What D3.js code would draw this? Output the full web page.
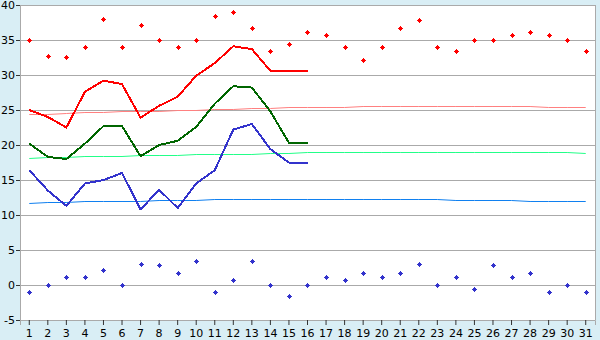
<!DOCTYPE html>
<html>
<head>
<meta charset="utf-8">
<script src="https://cdn.jsdelivr.net/npm/d3@7"></script>
<style>
  body { margin: 0; background: #d9eef5; }
  svg { display: block; }
  .tick text { font-family: "DejaVu Sans", Verdana, sans-serif; font-size: 11px; fill: #000; }
</style>
</head>
<body>
<div id="chart"></div>
<script>
(function(){
    var width = 600;
    var height = 340;

    var days = d3.range(1, 32);
    var yTicks = [-5, 0, 5, 10, 15, 20, 25, 30, 35, 40];

    // measured this month (days 1..16)
    var maxTemp  = [25.0, 24.0, 22.5, 27.6, 29.2, 28.7, 23.9, 25.6, 26.9, 29.9, 31.7, 34.1, 33.7, 30.6, 30.6, 30.6];
    var meanTemp = [20.2, 18.3, 18.0, 20.2, 22.7, 22.7, 18.4, 20.0, 20.6, 22.6, 25.9, 28.4, 28.2, 24.8, 20.3, 20.3];
    var minTemp  = [16.4, 13.5, 11.3, 14.5, 15.0, 16.0, 10.8, 13.6, 11.0, 14.5, 16.4, 22.2, 23.0, 19.4, 17.5, 17.5];

    // normals
    var maxNormal  = [24.4, 24.5, 24.6, 24.65, 24.7, 24.8, 24.85, 24.9, 24.95, 25.0, 25.1, 25.2, 25.3, 25.35, 25.4, 25.42,
                      25.45, 25.48, 25.5, 25.55, 25.57, 25.57, 25.57, 25.57, 25.57, 25.57, 25.56, 25.52, 25.47, 25.43, 25.4];
    var meanNormal = [18.1, 18.25, 18.3, 18.38, 18.42, 18.47, 18.52, 18.57, 18.62, 18.67, 18.7, 18.72, 18.76, 18.82, 18.88, 18.93,
                      18.96, 18.98, 19.0, 19.0, 19.0, 19.0, 19.0, 19.0, 19.0, 19.0, 18.98, 18.97, 18.95, 18.93, 18.9];
    var minNormal  = [11.7, 11.8, 11.87, 11.93, 11.98, 12.02, 12.06, 12.1, 12.14, 12.18, 12.22, 12.26, 12.28, 12.3, 12.3, 12.3,
                      12.3, 12.3, 12.3, 12.29, 12.28, 12.26, 12.24, 12.2, 12.17, 12.14, 12.1, 12.06, 12.02, 11.99, 11.96];

    // records
    var maxRecord = [35.0, 32.7, 32.5, 34.0, 38.0, 34.0, 37.2, 35.0, 34.0, 35.0, 38.4, 39.0, 36.7, 33.4, 34.4, 36.1,
                     35.7, 34.0, 32.2, 34.0, 36.7, 37.8, 34.0, 33.4, 35.0, 35.0, 35.7, 36.1, 35.7, 35.0, 33.4];
    var minRecord = [-1.0, 0.0, 1.1, 1.1, 2.2, 0.0, 3.0, 2.8, 1.7, 3.4, -1.0, 0.7, 3.4, 0.0, -1.6, 0.0,
                     1.1, 0.7, 1.7, 1.1, 1.7, 3.0, 0.0, 1.1, -0.6, 2.8, 1.1, 1.7, -1.0, 0.0, -1.0];

    var margin = {left: 20, right: 5, top: 5, bottom: 20};
    var plotW = width - margin.left - margin.right;
    var plotH = height - margin.top - margin.bottom;

    var svg = d3.select("#chart")
        .append("svg")
        .attr("width", width)
        .attr("height", height)
        .append("g")
        .attr("transform", "translate(" + margin.left + "," + margin.top + ")");

    var x = d3.scaleBand().domain(days).range([0, plotW]).padding(0);
    var y = d3.scaleLinear().domain([-5, 40]).range([plotH, 0]);
    function cx(d) { return x(d) + x.bandwidth() / 2; }

    svg.append("rect")
        .attr("width", plotW)
        .attr("height", plotH)
        .attr("fill", "#fff");

    // grid
    svg.selectAll(".grid")
        .data(yTicks)
        .enter().append("line")
        .attr("class", "grid")
        .attr("x1", 0).attr("x2", plotW)
        .attr("y1", function(d){ return Math.round(y(d)) + 0.5; })
        .attr("y2", function(d){ return Math.round(y(d)) + 0.5; })
        .attr("stroke", "#aaaaaa");

    svg.append("line")
        .attr("x1", plotW + 0.5).attr("x2", plotW + 0.5)
        .attr("y1", 0).attr("y2", plotH)
        .attr("stroke", "#aaaaaa");

    var yAxis = svg.append("g")
        .call(d3.axisLeft(y).tickValues(yTicks).tickSize(4).tickPadding(1)
            .tickFormat(function(d){ return String(d); }));
    var xAxis = svg.append("g")
        .attr("transform", "translate(0," + plotH + ")")
        .call(d3.axisBottom(x).tickSize(5).tickPadding(3));
    [yAxis, xAxis].forEach(function(a){
        a.select(".domain").attr("stroke", "#aaaaaa");
        a.selectAll(".tick line").attr("stroke", "#333");
    });
    xAxis.selectAll(".tick text").attr("dy", "0.85em");

    // thin normal lines, snapped to pixel rows
    function drawNormal(values, color) {
        var line = d3.line()
            .x(function(d, i){ return cx(days[i]); })
            .y(function(d){ return Math.round(y(d)) + 0.5; });
        svg.append("path")
            .datum(values)
            .attr("d", line)
            .attr("fill", "none")
            .attr("stroke", color)
            .attr("stroke-width", 1);
    }

    function drawLine(values, color) {
        var line = d3.line()
            .x(function(d, i){ return cx(days[i]); })
            .y(function(d){ return y(d); });
        svg.append("path")
            .datum(values)
            .attr("d", line)
            .attr("fill", "none")
            .attr("stroke", color)
            .attr("stroke-width", 2)
            .attr("stroke-linejoin", "round")
            .attr("shape-rendering", "crispEdges");
    }

    drawNormal(maxNormal, "#ff8080");
    drawNormal(meanNormal, "#22ff88");
    drawNormal(minNormal, "#1080f0");
    drawLine(maxTemp, "#ff0000");
    drawLine(meanTemp, "#006600");
    drawLine(minTemp, "#3333cc");

    var marker = "M-0.5,-2.5h1v5h-1z M-2.5,-0.5h5v1h-5z M-1.5,-1.5h3v3h-3z";
    function drawMarkers(values, color) {
        svg.selectAll(null)
            .data(values)
            .enter().append("path")
            .attr("d", marker)
            .attr("transform", function(d, i){
                return "translate(" + (Math.round(cx(days[i])) + 0.5) + "," + (Math.round(y(d)) + 0.5) + ")";
            })
            .attr("fill", color)
            .attr("shape-rendering", "crispEdges");
    }
    drawMarkers(maxRecord, "#ff0000");
    drawMarkers(minRecord, "#3333cc");
})();
</script>
</body>
</html>
